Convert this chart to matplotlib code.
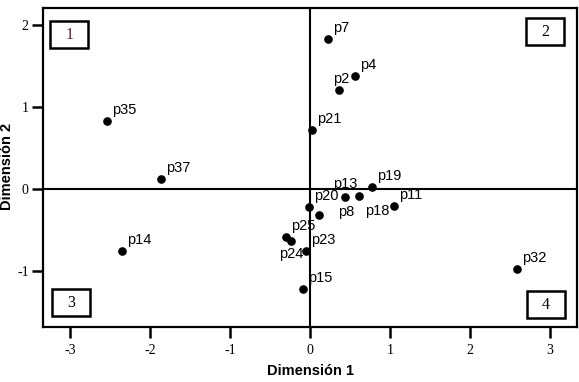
import numpy as np
import matplotlib
matplotlib.use('Agg')
import matplotlib.pyplot as plt
from matplotlib.patches import Rectangle
matplotlib.rcParams['axes.unicode_minus'] = False

# point coordinates
labels = ['p7', 'p4', 'p2', 'p21', 'p35', 'p37', 'p19', 'p13', 'p18', 'p11',
          'p20', 'p8', 'p25', 'p24', 'p23', 'p15', 'p14', 'p32']
dim1 = [0.23, 0.56, 0.36, 0.03, -2.54, -1.86, 0.78, 0.44, 0.61, 1.05,
        -0.01, 0.11, -0.30, -0.24, -0.05, -0.09, -2.35, 2.59]
dim2 = [1.82, 1.37, 1.20, 0.72, 0.83, 0.12, 0.02, -0.10, -0.09, -0.21,
        -0.22, -0.32, -0.59, -0.63, -0.76, -1.22, -0.75, -0.98]
xticks = [-3, -2, -1, 0, 1, 2, 3]
yticks = [-1, 0, 1, 2]

# label offsets in pixels (dx right, dy down)
offsets_px = {'p2': (-6, 7), 'p13': (-12, 9), 'p8': (19, -1), 'p18': (6, -19),
              'p24': (-12, -17)}
default_px = (5, 7)

fig = plt.figure(figsize=(5.79, 3.82), dpi=100)
ax = fig.add_axes([0.0737, 0.144, 0.922, 0.834])

ax.plot(dim1, dim2, 'o', color='black', ms=5.2, zorder=3)
for lab, x, y in zip(labels, dim1, dim2):
    dx, dy = offsets_px.get(lab, default_px)
    ax.annotate(lab, (x, y), xytext=(dx * 0.72, dy * 0.72), textcoords='offset points',
                ha='left', va='baseline', fontsize=10.5, family='Liberation Sans')

ax.axhline(0, color='black', lw=1.5, zorder=1)
ax.axvline(0, color='black', lw=1.5, zorder=1)

ax.set_xlim(-3.34, 3.33)
ax.set_ylim(-1.68, 2.196)
ax.set_xticks(xticks)
ax.set_yticks(yticks)
ax.tick_params(direction='out', length=8, width=1.8, labelsize=10, pad=2)
ax.tick_params(axis='x', pad=4)
for t in ax.get_xticklabels() + ax.get_yticklabels():
    t.set_family('Liberation Serif')
for s in ax.spines.values():
    s.set_linewidth(1.6)

ax.set_xlabel('Dimensión 1', fontsize=10.5, fontweight='bold', family='Liberation Sans')
ax.set_ylabel('Dimensión 2', fontsize=10.5, fontweight='bold', family='Liberation Sans')
ax.xaxis.set_label_coords(0.502, -0.115)
ax.yaxis.set_label_coords(-0.053, 0.505)

# quadrant boxes
quads = [('1', 0.0137, 0.8745, '#5a1a3a'), ('2', 0.905, 0.885, 'black'),
         ('3', 0.0169, 0.033, 'black'), ('4', 0.907, 0.028, 'black')]
for txt, bx, by, col in quads:
    ax.add_patch(Rectangle((bx, by), 0.072, 0.085, transform=ax.transAxes,
                           fill=False, lw=1.8, edgecolor='black', clip_on=False))
    ax.text(bx + 0.036, by + 0.0425, txt, transform=ax.transAxes, ha='center',
            va='center', fontsize=11.5, family='Liberation Serif', color=col)

plt.savefig('out.png', dpi=100)
